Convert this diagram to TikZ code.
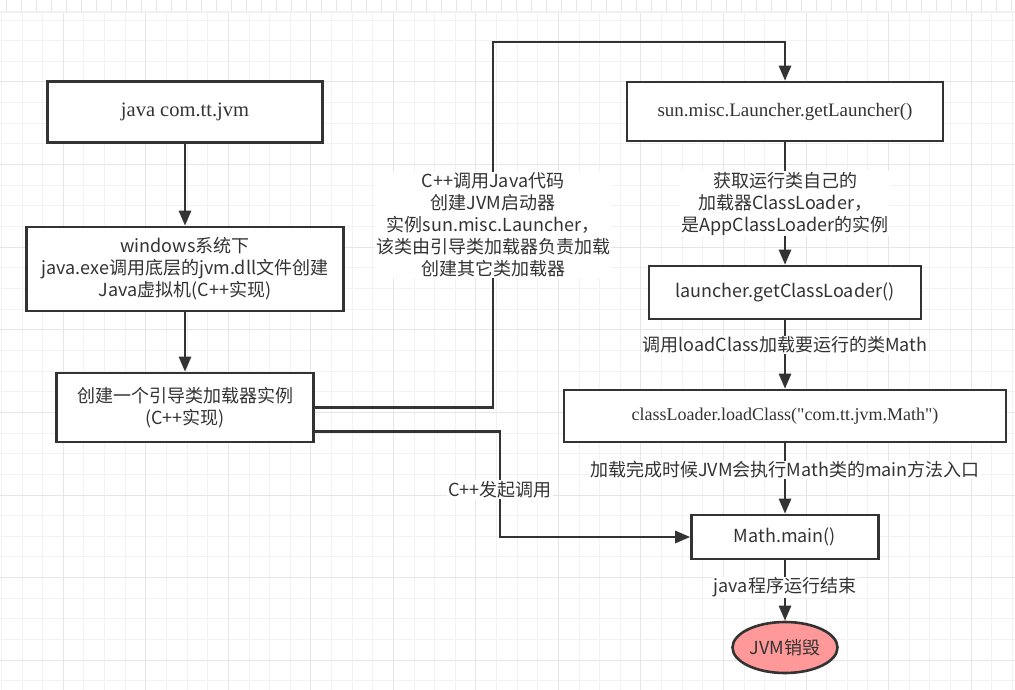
\documentclass[tikz,border=0pt]{standalone}
\usepackage{fontspec}
\setmainfont{Liberation Serif}[Ligatures=TeXOff]
\newfontfamily\cjk{Noto Sans CJK SC}
\usepackage{tikz}
\usetikzlibrary{shapes.geometric, arrows.meta}
\definecolor{line}{HTML}{333333}
\definecolor{txt}{HTML}{333333}
\definecolor{jvmred}{HTML}{FF9999}
\definecolor{gridminor}{HTML}{F2F2F2}
\definecolor{gridmajor}{HTML}{E6E6E6}
\tikzstyle{box} = [rectangle, draw=line, line width=2.6pt, fill=white, text=txt, align=center, inner sep=2pt]
\tikzstyle{serifbox} = [box, font=\fontsize{19}{23}\selectfont]
\tikzstyle{sansbox} = [box, font=\cjk\fontsize{18}{22}\selectfont]
\tikzstyle{stopnode} = [ellipse, draw=line, line width=2.6pt, fill=jvmred, text=txt, font=\cjk\fontsize{18}{22}\selectfont, minimum width=105pt, minimum height=51pt, inner sep=0pt]
\tikzstyle{lbl} = [fill=white, text=txt, align=center, font=\cjk\fontsize{18}{22}\selectfont, inner sep=1pt]
\tikzstyle{arrow} = [draw=line, line width=2.6pt, -{Triangle[length=15pt,width=12pt]}]
\tikzstyle{gridline} = [draw=gridminor, line width=0.9pt]

\begin{document}
\begin{tikzpicture}[x=1pt, y=-1pt]
\useasboundingbox (0,0) rectangle (1015,690);
\fill[white] (0,0) rectangle (1015,690);
% background grid and ruler
\foreach \i in {0,...,49} \draw[gridline] ({1.4+20.63*\i},12) -- ({1.4+20.63*\i},690);
\foreach \j in {0,...,32} \draw[gridline] (0,{20+20.65*\j}) -- (1015,{20+20.65*\j});
\foreach \i in {3,7,...,47} \draw[gridline, draw=gridmajor] ({1.4+20.63*\i},12) -- ({1.4+20.63*\i},690);
\foreach \j in {3,7,...,31} \draw[gridline, draw=gridmajor] (0,{20+20.65*\j}) -- (1015,{20+20.65*\j});
\foreach \i in {0,...,67} \draw[draw=gridmajor, line width=0.8pt] ({6+15*\i},0) -- ({6+15*\i},12);
\draw[draw=gridmajor!80!black!20, line width=1.2pt] (0,12) -- (1015,12);

% left column
\node (src) [serifbox, minimum width=275pt, minimum height=61pt, font=\fontsize{20.5}{24}\selectfont] at (185,112) {java com.tt.jvm};
\node (win) [sansbox, minimum width=317pt, minimum height=84pt] at (185,269) {windows系统下\\java.exe调用底层的jvm.dll文件创建\\Java虚拟机(C++实现)};
\node (boot) [sansbox, minimum width=257pt, minimum height=69pt] at (185,407.5) {创建一个引导类加载器实例\\(C++实现)};

% right column
\node (launcher) [serifbox, minimum width=316pt, minimum height=59pt] at (785,111.5) {sun.misc.Launcher.getLauncher()};
\node (getcl) [sansbox, minimum width=272pt, minimum height=53pt] at (785,292.5) {launcher.getClassLoader()};
\node (loadcl) [serifbox, minimum width=442pt, minimum height=52pt, font=\fontsize{18}{22}\selectfont] at (785,416) {classLoader.loadClass("com.tt.jvm.Math")};
\node (mainm) [sansbox, minimum width=187pt, minimum height=44pt] at (785,537) {Math.main()};
\node (jvmend) [stopnode] at (785,647.5) {JVM销毁};

\coordinate (up) at (493,42);
\coordinate (dn) at (500,537);
\coordinate (bootlow) at ([yshift=-24pt]boot.east);

\draw [arrow] (src) -- (win);
\draw [arrow] (win) -- (boot);
\draw [arrow] (boot.east) -- (boot.east -| up) -- node[lbl] {C++调用Java代码\\创建JVM启动器\\实例sun.misc.Launcher，\\该类由引导类加载器负责加载\\创建其它类加载器} (up) -| (launcher.north);
\draw [arrow] (bootlow) -- (bootlow -| dn) -- node[lbl, pos=0.55] {C++发起调用} (dn) -- (mainm.west);
\draw [arrow] (launcher) -- node[lbl] {获取运行类自己的\\加载器ClassLoader，\\是AppClassLoader的实例} (getcl);
\draw [arrow] (getcl) -- node[lbl, pos=0.36] {调用loadClass加载要运行的类Math} (loadcl);
\draw [arrow] (loadcl) -- node[lbl, pos=0.38] {加载完成时候JVM会执行Math类的main方法入口} (mainm);
\draw [arrow] (mainm) -- node[lbl, pos=0.45] {java程序运行结束} (jvmend);
\end{tikzpicture}
\end{document}
